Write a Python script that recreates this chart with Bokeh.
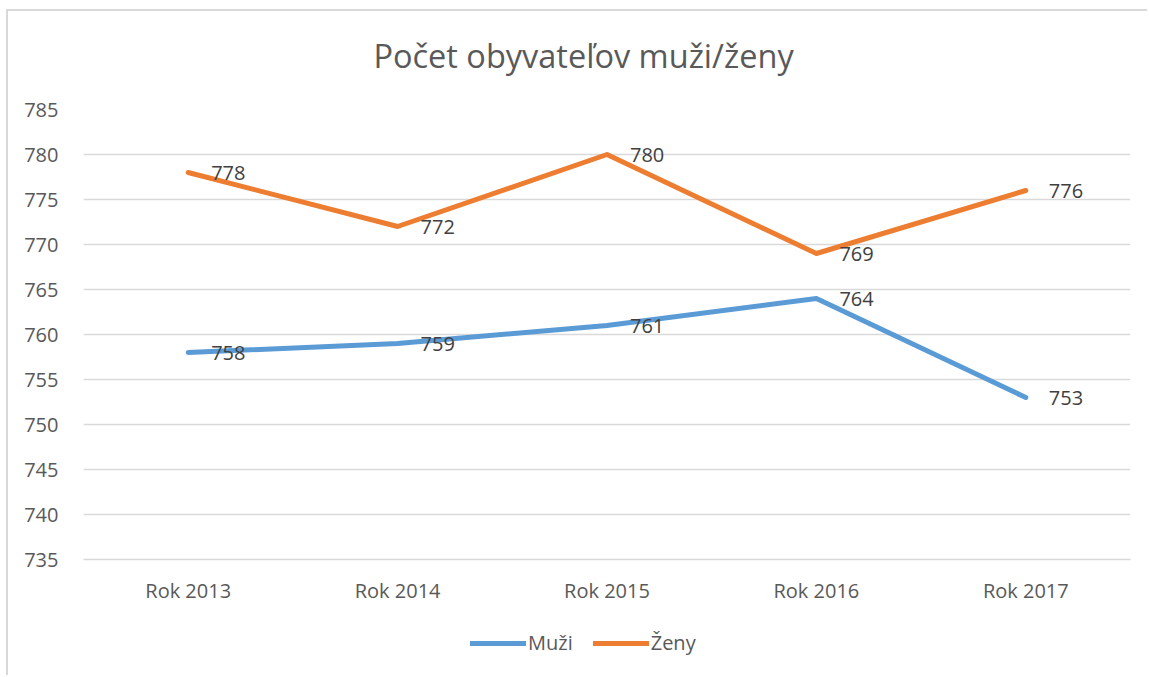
from bokeh.plotting import figure
from bokeh.layouts import column
from bokeh.models import (ColumnDataSource, LabelSet, Legend, LegendItem, FixedTicker,
                          FactorRange, Range1d, Label)
from bokeh.core.properties import value
from bokeh.embed import file_html
from bokeh.resources import INLINE

title_text = "Počet obyvateľov muži/ženy"
categories = ["Rok 2013", "Rok 2014", "Rok 2015", "Rok 2016", "Rok 2017"]
muzi = [758, 759, 761, 764, 753]
zeny = [778, 772, 780, 769, 776]
y_ticks = [735, 740, 745, 750, 755, 760, 765, 770, 775, 780, 785]
series_names = ["Muži", "Ženy"]

FONT = "Open Sans"
GRAY = "#595959"
BLUE = "#5B9BD5"
ORANGE = "#ED7D31"

src = ColumnDataSource(dict(
    x=categories, muzi=muzi, zeny=zeny,
    muzi_t=[str(v) for v in muzi], zeny_t=[str(v) for v in zeny],
))

# title strip
tf = figure(width=1139, height=78, x_range=Range1d(0, 1), y_range=Range1d(0, 1),
            output_backend="svg", toolbar_location=None,
            min_border_left=0, min_border_right=0, min_border_top=0, min_border_bottom=0)
tf.axis.visible = False
tf.grid.visible = False
tf.outline_line_color = None
tf.add_layout(Label(x=0.4776, y=0.4359, text=title_text, text_align="center",
                    text_baseline="middle", text_font=FONT, text_font_size="32.5px",
                    text_color=GRAY))

p = figure(
    x_range=FactorRange(*categories, range_padding=0),
    y_range=Range1d(735, 785),
    width=1139, height=517,
    output_backend="svg", toolbar_location=None,
    min_border_left=75, min_border_right=17, min_border_top=20, min_border_bottom=40,
)
p.outline_line_color = None

r_m = p.line("x", "muzi", source=src, line_color=BLUE, line_width=5, line_cap="round", line_join="round")
r_z = p.line("x", "zeny", source=src, line_color=ORANGE, line_width=5, line_cap="round", line_join="round")

for col, tcol in (("muzi", "muzi_t"), ("zeny", "zeny_t")):
    p.add_layout(LabelSet(x="x", y=col, text=tcol, source=src, x_offset=23, y_offset=0,
                          text_align="left", text_baseline="middle",
                          text_font_size=value("20px"), text_color="#404040",
                          text_font=value(FONT)))

p.yaxis.ticker = FixedTicker(ticks=y_ticks)
p.yaxis.axis_line_color = None
p.yaxis.major_tick_line_color = None
p.yaxis.minor_tick_line_color = None
p.yaxis.major_label_standoff = 19
p.yaxis.major_label_text_font = FONT
p.yaxis.major_label_text_font_size = "20px"
p.yaxis.major_label_text_color = GRAY

p.xaxis.axis_line_color = "#d9d9d9"
p.xaxis.axis_line_width = 1.5
p.xaxis.major_tick_line_color = None
p.xaxis.minor_tick_line_color = None
p.xaxis.major_label_standoff = 11
p.xaxis.major_label_text_font = FONT
p.xaxis.major_label_text_font_size = "20px"
p.xaxis.major_label_text_color = GRAY

p.xgrid.grid_line_color = None
p.ygrid.grid_line_color = "#d9d9d9"
p.ygrid.grid_line_width = 1.5

# legend strip below the chart (series drawn out of view, only the legend shows)
lf = figure(width=1139, height=69, x_range=FactorRange(*categories), y_range=Range1d(0, 1),
            output_backend="svg", toolbar_location=None,
            min_border_left=0, min_border_right=0, min_border_top=0, min_border_bottom=0)
lf.axis.visible = False
lf.grid.visible = False
lf.outline_line_color = None
lm = lf.line("x", "muzi", source=src, line_color=BLUE, line_width=5, line_cap="round")
lz = lf.line("x", "zeny", source=src, line_color=ORANGE, line_width=5, line_cap="round")

legend = Legend(items=[LegendItem(label=series_names[0], renderers=[lm]),
                       LegendItem(label=series_names[1], renderers=[lz])],
                orientation="horizontal", location=(387, 19))
legend.label_text_font = FONT
legend.label_text_font_size = "20px"
legend.label_text_color = GRAY
legend.glyph_width = 56
legend.label_standoff = 2
legend.spacing = 20
legend.border_line_color = None
legend.background_fill_alpha = 0
legend.margin = 0
legend.padding = 0
lf.add_layout(legend, "center")

layout = column(tf, p, lf, spacing=0, margin=(9, 0, 0, 6),
                styles={"border-left": "2px solid #d9d9d9", "border-top": "2px solid #d9d9d9"})

open("out.html", "w").write(file_html(layout, INLINE))
